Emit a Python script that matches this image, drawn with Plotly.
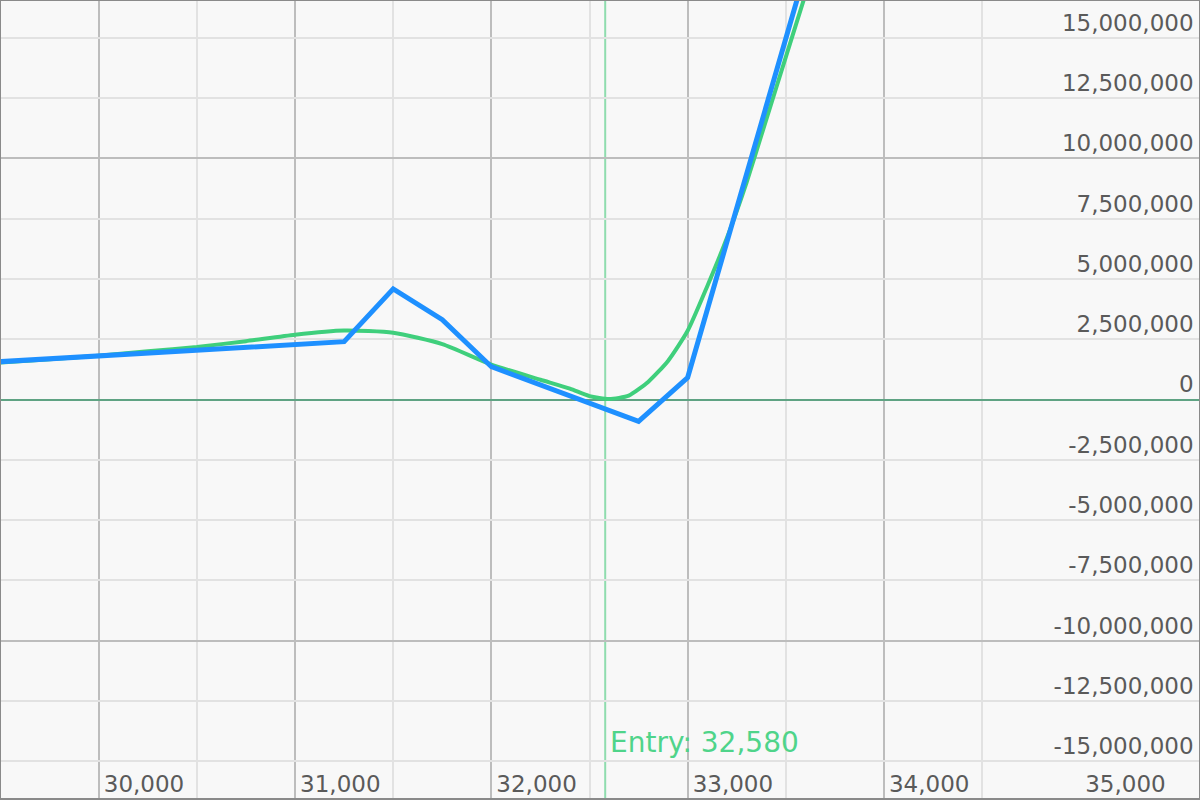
import plotly.graph_objects as go

# Data
entry_price = 32580

blue_x = [29500, 31250, 31500, 31750, 32000, 32250, 32500, 32750, 33000, 33500, 33750]
blue_y = [1.57e6, 2.40e6, 4.59e6, 3.31e6, 1.36e6, 0.60e6, -0.20e6, -0.91e6, 0.91e6, 15.0e6, 22.0e6]

green_x = [29500, 29750, 30000, 30250, 30500, 30750, 31000, 31250, 31500, 31750,
           32000, 32250, 32400, 32500, 32600, 32700, 32800, 32900, 33000, 33100,
           33200, 33300, 33400, 33500, 33600, 33700]
green_y = [1.53e6, 1.67e6, 1.82e6, 2.00e6, 2.18e6, 2.42e6, 2.69e6, 2.86e6, 2.77e6, 2.30e6,
           1.45e6, 0.82e6, 0.45e6, 0.14e6, 0.02e6, 0.16e6, 0.74e6, 1.60e6, 2.85e6, 4.70e6,
           6.70e6, 9.00e6, 11.6e6, 14.2e6, 16.8e6, 19.3e6]

y_tick_vals = [v * 2.5e6 for v in range(-6, 7)]
y_tick_text = [f"{int(v):,}" for v in y_tick_vals]

FONT = "DejaVu Sans"
TICK_COLOR = "#5a5a5a"
TICK_SIZE = 23
X_RANGE = [29502, 35605]
Y_RANGE = [-16.53e6, 16.53e6]

fig = go.Figure()
fig.add_trace(go.Scatter(x=green_x, y=green_y, mode="lines",
                         line=dict(color="#3fcf7c", width=4, shape="spline", smoothing=0.6),
                         showlegend=False))
fig.add_trace(go.Scatter(x=blue_x, y=blue_y, mode="lines",
                         line=dict(color="#1e90ff", width=5), showlegend=False))
# invisible trace to activate the overlay axes (major y grid + x labels)
fig.add_trace(go.Scatter(x=[entry_price], y=[0], xaxis="x2", yaxis="y2", mode="markers",
                         marker=dict(opacity=0), showlegend=False, hoverinfo="skip"))

fig.add_vline(x=entry_price, line=dict(color="#8fdcae", width=2), layer="below")
fig.add_annotation(x=entry_price, xref="x", y=0.07, yref="paper",
                   text=f"Entry: {entry_price:,}", showarrow=False,
                   xanchor="left", yanchor="middle", xshift=3,
                   font=dict(family=FONT, size=28, color="#4fd48a"))

fig.update_layout(
    width=1200, height=800,
    margin=dict(l=1, r=1, t=1, b=2, autoexpand=False),
    paper_bgcolor="#f8f8f8", plot_bgcolor="#f8f8f8",
    font=dict(family=FONT, size=TICK_SIZE, color=TICK_COLOR),
    xaxis=dict(range=X_RANGE, dtick=1000, tick0=0, showticklabels=False,
               showgrid=True, gridcolor="#bdbdbd", gridwidth=2,
               minor=dict(dtick=500, tick0=0, showgrid=True, gridcolor="#e2e2e2", gridwidth=2),
               zeroline=False, showline=True, linecolor="#8a8a8a", linewidth=2, mirror=True,
               ticks="", automargin=False),
    xaxis2=dict(range=X_RANGE, overlaying="x", anchor="y2", side="bottom",
                dtick=1000, tick0=0, tickformat=",d", ticklabelposition="inside right",
                ticklabelshift=5, ticklabelstandoff=-5,
                showgrid=False, zeroline=False, showline=False,
                ticks="", automargin=False,
                tickfont=dict(family=FONT, size=TICK_SIZE, color=TICK_COLOR)),
    yaxis=dict(range=Y_RANGE, side="right",
               tickvals=y_tick_vals, ticktext=y_tick_text,
               ticklabelposition="inside top", ticklabelstandoff=6, ticklabelshift=1,
               automargin=False,
               showgrid=True, gridcolor="#e2e2e2", gridwidth=2,
               zeroline=True, zerolinecolor="#5fa383", zerolinewidth=2,
               showline=True, linecolor="#8a8a8a", linewidth=2, mirror=True,
               ticks="", tickfont=dict(family=FONT, size=TICK_SIZE, color=TICK_COLOR)),
    yaxis2=dict(range=Y_RANGE, overlaying="y", anchor="x2", side="left",
                dtick=10e6, tick0=0, showticklabels=False, automargin=False,
                showgrid=True, gridcolor="#bdbdbd", gridwidth=2,
                zeroline=False, showline=False, ticks=""),
)

fig.write_html("out.html", config={"displayModeBar": False},
               post_script="document.body.style.margin='0';")
